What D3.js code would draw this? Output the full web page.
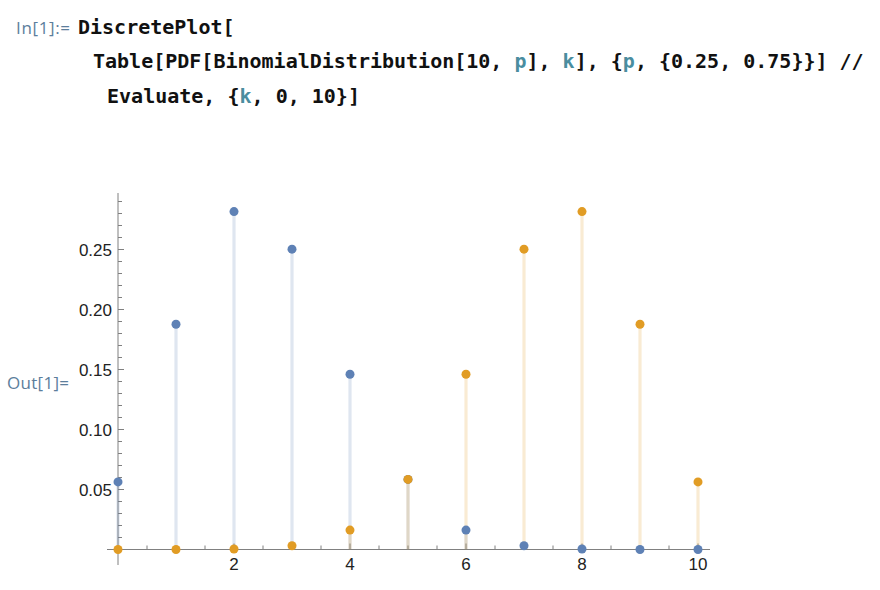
<!DOCTYPE html>
<html><head><meta charset="utf-8">
<script src="https://cdn.jsdelivr.net/npm/d3@7"></script>
<style>html,body{margin:0;padding:0;background:#fff;}svg{display:block;}</style>
</head><body>
<script>
const ks = [0,1,2,3,4,5,6,7,8,9,10];
const pdfP25 = [0.0563,0.1877,0.2816,0.2503,0.1460,0.0584,0.0162,0.0031,0.0004,0.00003,0.000001];
const pdfP75 = [0.000001,0.00003,0.0004,0.0031,0.0162,0.0584,0.1460,0.2503,0.2816,0.1877,0.0563];
const seriesColors = ["#5E81B5","#E19C24"];
const xMajorTicks = [2,4,6,8,10];
const yMajorTicks = [0.05,0.10,0.15,0.20,0.25];
const codeLines = [
  [["DiscretePlot[", 0]],
  [["Table[PDF[BinomialDistribution[10, ",0],["p",1],["], ",0],["k",1],["], {",0],["p",1],[", {0.25, 0.75}}] //",0]],
  [[" Evaluate, {",0],["k",1],[", 0, 10}]",0]]
];

const W = 880, H = 590;
const svg = d3.select("body").append("svg").attr("width", W).attr("height", H);

// notebook text
svg.append("text").attr("x", 16).attr("y", 34).attr("font-family", "Open Sans, Noto Sans, sans-serif")
  .attr("font-size", 17).attr("fill", "#5c7e9c").attr("textLength", 54).text("In[1]:=");
const codeX = [78, 93, 95];
const codeY = [34, 68, 103];
codeLines.forEach((line, i) => {
  const t = svg.append("text").attr("x", codeX[i]).attr("y", codeY[i])
    .attr("font-family", "DejaVu Sans Mono, monospace").attr("font-weight", "bold")
    .attr("font-size", 20).attr("xml:space", "preserve").style("white-space", "pre");
  line.forEach(([s, c]) => t.append("tspan").attr("fill", c ? "#4a8d9f" : "#111").text(s));
});
svg.append("text").attr("x", 7).attr("y", 389).attr("font-family", "Open Sans, Noto Sans, sans-serif")
  .attr("font-size", 17).attr("fill", "#5c7e9c").attr("textLength", 62).text("Out[1]=");

// scales
const x = d3.scaleLinear().domain([0, 10]).range([118, 698]);
const y = d3.scaleLinear().domain([0, 0.25]).range([549.5, 249.5]);
const g = svg.append("g");
const axisColor = "#808080";

// axes lines
g.append("line").attr("x1", 107).attr("x2", 710).attr("y1", y(0)).attr("y2", y(0))
  .attr("stroke", axisColor).attr("stroke-width", 1);
g.append("line").attr("x1", x(0)).attr("x2", x(0)).attr("y1", 193).attr("y2", 565)
  .attr("stroke", axisColor).attr("stroke-width", 1);

// x ticks
const xMinor = d3.range(0.5, 10.01, 0.5).filter(v => !xMajorTicks.includes(v));
xMinor.forEach(v => g.append("line").attr("x1", x(v)).attr("x2", x(v)).attr("y1", y(0)).attr("y2", y(0) - 4)
  .attr("stroke", axisColor));
xMajorTicks.forEach(v => {
  g.append("line").attr("x1", x(v)).attr("x2", x(v)).attr("y1", y(0)).attr("y2", y(0) - 6).attr("stroke", axisColor);
  g.append("text").attr("x", x(v)).attr("y", 570).attr("text-anchor", "middle")
    .attr("font-family", "Liberation Sans, Arial, sans-serif").attr("font-size", 17).attr("fill", "#222").text(v);
});
// y ticks
const yMinor = d3.range(1, 30).map(i => i / 100).filter(v => Math.round(v * 100) % 5 !== 0 && y(v) > 193);
yMinor.forEach(v => g.append("line").attr("x1", x(0)).attr("x2", x(0) + 4).attr("y1", y(v)).attr("y2", y(v))
  .attr("stroke", axisColor));
yMajorTicks.forEach(v => {
  g.append("line").attr("x1", x(0)).attr("x2", x(0) + 6).attr("y1", y(v)).attr("y2", y(v)).attr("stroke", axisColor);
  g.append("text").attr("x", 112).attr("y", y(v) + 6).attr("text-anchor", "end")
    .attr("font-family", "Liberation Sans, Arial, sans-serif").attr("font-size", 17).attr("fill", "#222").text(v.toFixed(2));
});

// stems
[pdfP25, pdfP75].forEach((vals, si) => {
  g.append("g").selectAll("line").data(ks).join("line")
    .attr("x1", k => x(k)).attr("x2", k => x(k))
    .attr("y1", y(0)).attr("y2", k => y(vals[k]))
    .attr("stroke", seriesColors[si]).attr("stroke-opacity", 0.2).attr("stroke-width", 3.2);
});
// points
[pdfP25, pdfP75].forEach((vals, si) => {
  g.append("g").selectAll("circle").data(ks).join("circle")
    .attr("cx", k => x(k)).attr("cy", k => y(vals[k])).attr("r", 4.5)
    .attr("fill", seriesColors[si]);
});
</script>
</body></html>
